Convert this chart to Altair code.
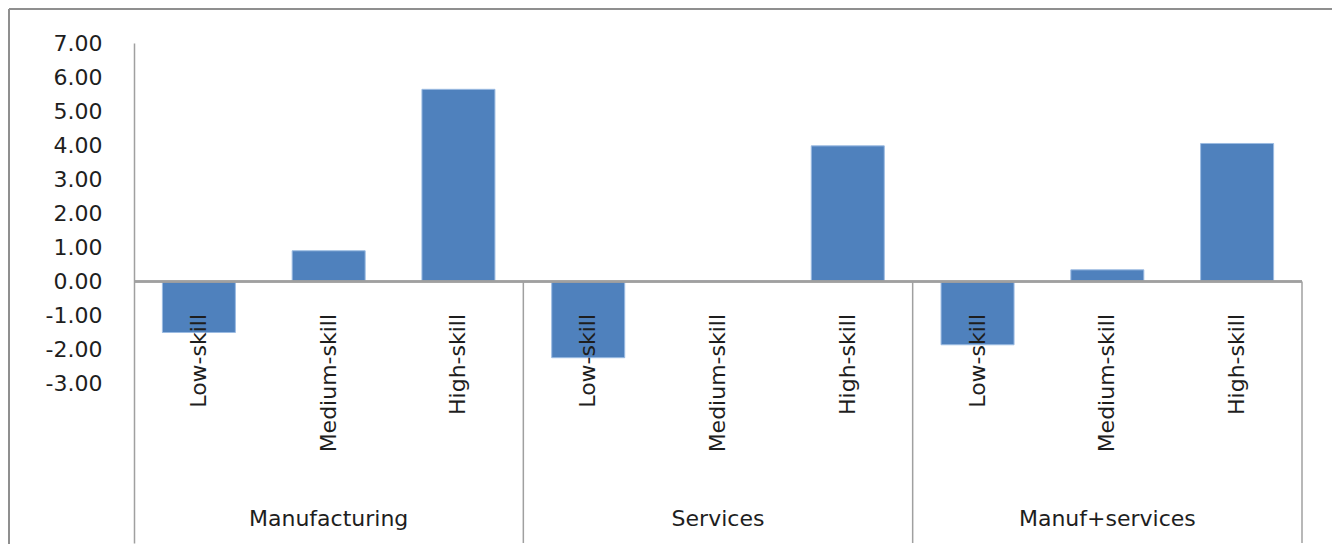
import altair as alt
import pandas as pd

groups = ["Manufacturing", "Services", "Manuf+services"]
skills = ["Low-skill", "Medium-skill", "High-skill"]
manufacturing = [-1.50, 0.90, 5.64]
services = [-2.24, 0.00, 3.98]
manuf_services = [-1.86, 0.34, 4.05]
y_ticks = [7, 6, 5, 4, 3, 2, 1, 0, -1, -2, -3]

rows = []
for g, vals in zip(groups, [manufacturing, services, manuf_services]):
    for s, v in zip(skills, vals):
        rows.append({"key": f"{g}|{s}", "group": g, "skill": s, "value": v})
df = pd.DataFrame(rows)
keys = list(df["key"])

grp_df = pd.DataFrame({"key": [f"{g}|{skills[1]}" for g in groups], "group": groups})
sep_df = pd.DataFrame({"key": [f"{g}|{skills[0]}" for g in groups[1:]]})

W, H = 1168, 500
PI, PO = 0.4375, 0.21875
gap = PI * (W / len(keys)) / 2
FONT = "DejaVu Sans"
LINE = "#a0a0a0"
TXT = "#1e1e1e"

xscale = alt.Scale(domain=keys, paddingInner=PI, paddingOuter=PO)
yscale = alt.Scale(domain=[-7.68, 7], nice=False, zero=False)

bars = alt.Chart(df).mark_bar(color="#4f81bd", stroke="#9bbbe2", strokeWidth=1).encode(
    x=alt.X("key:N", scale=xscale, axis=None, sort=keys),
    y=alt.Y("value:Q", scale=yscale,
            axis=alt.Axis(values=y_ticks, ticks=False, grid=False, title=None,
                          labelExpr="replace(format(datum.value, '.2f'), '\u2212', '-')",
                          domainColor=LINE, domainWidth=1.5, labelPadding=32,
                          labelFontSize=22, labelFont=FONT, labelColor=TXT)),
)

zero = alt.Chart(df).mark_rule(color=LINE, strokeWidth=1.5).encode(y=alt.datum(0))

seps = alt.Chart(sep_df).mark_rule(color=LINE, strokeWidth=1.5, xOffset=-gap).encode(
    x=alt.X("key:N", scale=xscale, bandPosition=0),
    y=alt.datum(0),
    y2=alt.value(H),
)
right_sep = alt.Chart(sep_df.head(1)).mark_rule(color=LINE, strokeWidth=1.5).encode(
    x=alt.value(W), y=alt.datum(0), y2=alt.value(H)
)

skill_txt = alt.Chart(df).mark_text(angle=270, align="right", baseline="middle", yOffset=32.5,
                                    fontSize=22, font=FONT, color=TXT).encode(
    x=alt.X("key:N", scale=xscale), y=alt.datum(0), text="skill:N"
)

grp_txt = alt.Chart(grp_df).mark_text(align="center", baseline="middle",
                                      fontSize=22, font=FONT, color=TXT).encode(
    x=alt.X("key:N", scale=xscale), y=alt.value(476), text="group:N"
)

border_top = alt.Chart(sep_df.head(1)).mark_rule(color="#8f8f8f", strokeWidth=2).encode(
    x=alt.value(-125), x2=alt.value(W + 40), y=alt.value(-34)
)
border_left = alt.Chart(sep_df.head(1)).mark_rule(color="#8f8f8f", strokeWidth=2).encode(
    x=alt.value(-125), y=alt.value(-34), y2=alt.value(H + 10)
)

chart = alt.layer(bars, zero, seps, right_sep, skill_txt, grp_txt, border_top, border_left).properties(
    width=W, height=H,
    autosize=alt.AutoSizeParams(type="none"),
    padding={"left": 126, "top": 35, "right": 30, "bottom": 1},
).configure(
    background="white",
    view=alt.ViewConfig(stroke="transparent", strokeWidth=0),
)

chart.save("out.html", embed_options={"renderer": "svg", "actions": False})
